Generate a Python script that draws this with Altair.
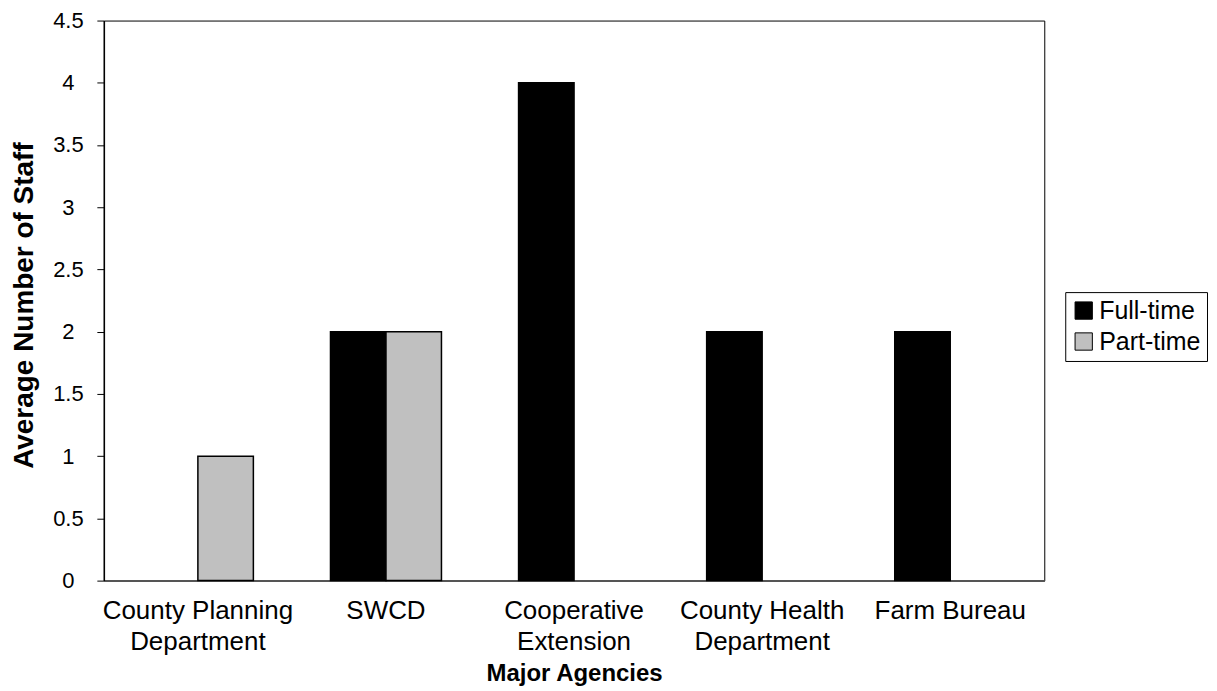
import json
import altair as alt
import pandas as pd

# ---- data ----
categories = [
    "County Planning Department",
    "SWCD",
    "Cooperative Extension",
    "County Health Department",
    "Farm Bureau",
]
label_lines = [
    ["County Planning", "Department"],
    ["SWCD"],
    ["Cooperative", "Extension"],
    ["County Health", "Department"],
    ["Farm Bureau"],
]
series = ["Full-time", "Part-time"]
full_time = [0, 2, 4, 2, 2]
part_time = [1, 2, 0, 0, 0]
y_ticks = [0, 0.5, 1, 1.5, 2, 2.5, 3, 3.5, 4, 4.5]
colors = ["#000000", "#C0C0C0"]

rows = []
for c, f, p in zip(categories, full_time, part_time):
    rows.append({"agency": c, "series": "Full-time", "value": f})
    rows.append({"agency": c, "series": "Part-time", "value": p})
df = pd.DataFrame(rows)

label_expr = " : ".join(
    f"datum.label == '{c}' ? {json.dumps(lines)}" for c, lines in zip(categories, label_lines)
) + " : datum.label"

FONT = "Liberation Sans, Arial, sans-serif"

chart = (
    alt.Chart(df)
    .transform_filter("datum.value > 0")
    .mark_bar(stroke="black", strokeWidth=1.5)
    .encode(
        x=alt.X(
            "agency:N",
            sort=categories,
            scale=alt.Scale(domain=categories, paddingInner=0.41, paddingOuter=0.205),
            axis=alt.Axis(
                title="Major Agencies",
                labelExpr=label_expr,
                labelAngle=0,
                labelLimit=0,
                ticks=False,
                tickSize=0,
                labelPadding=38,
                labelBaseline="alphabetic",
                labelLineHeight=31,
                labelFontSize=26,
                labelFont=FONT,
                labelColor="black",
                labelOverlap=False,
                titleFont=FONT,
                titleFontSize=24,
                titleFontWeight="bold",
                titleColor="black",
                titleX=471,
                titleY=100,
                titleBaseline="alphabetic",
                domainColor="#555555",
                domainWidth=2,
            ),
        ),
        xOffset=alt.XOffset(
            "series:N", scale=alt.Scale(domain=series, paddingInner=0, paddingOuter=0)
        ),
        y=alt.Y(
            "value:Q",
            scale=alt.Scale(domain=[0, 4.5], nice=False),
            axis=alt.Axis(
                values=y_ticks,
                format="~g",
                grid=False,
                tickSize=7,
                tickColor="black",
                domainColor="black",
                domainWidth=1.5,
                labelAlign="center",
                labelPadding=29,
                labelFontSize=22,
                labelFont=FONT,
                labelColor="black",
                title="Average Number of Staff",
                titleFont=FONT,
                titleFontSize=28,
                titleFontWeight="bold",
                titleColor="black",
                titleAngle=270,
                titleX=-71,
                titleY=285,
                titleBaseline="alphabetic",
                titleAlign="center",
            ),
        ),
        color=alt.Color(
            "series:N",
            scale=alt.Scale(domain=series, range=colors),
            legend=alt.Legend(
                title=None,
                orient="none",
                legendX=963,
                legendY=272,
                padding=6,
                strokeColor="black",
                fillColor="white",
                symbolType="square",
                symbolSize=300,
                symbolStrokeColor="black",
                symbolStrokeWidth=1,
                symbolOpacity=1,
                labelFontSize=25,
                labelFont=FONT,
                labelColor="black",
                rowPadding=5,
                labelOffset=3,
            ),
        ),
    )
    .properties(
        width=942,
        height=561,
        autosize=alt.AutoSizeParams(type="none"),
        padding={"left": 96, "top": 12, "right": 165, "bottom": 110},
    )
    .configure_view(stroke="black", strokeWidth=1)
)

chart.save("out.html", embed_options={"renderer": "svg", "actions": False})
